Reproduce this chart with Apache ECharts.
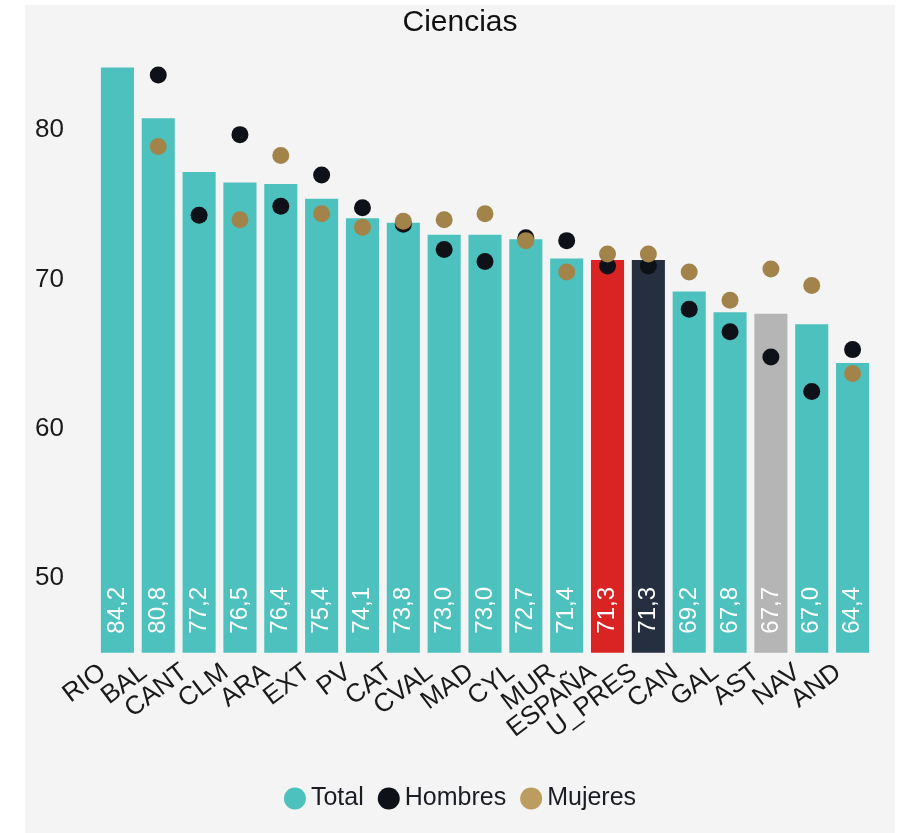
<!DOCTYPE html>
<html>
<head>
<meta charset="utf-8">
<script src="https://cdn.jsdelivr.net/npm/echarts@6/dist/echarts.min.js"></script>
<style>
html,body{margin:0;padding:0;background:#ffffff;}
#chart{position:absolute;left:25px;top:5px;width:870px;height:828px;}
</style>
</head>
<body>
<div id="chart"></div>
<script>
const categories = ['RIO','BAL','CANT','CLM','ARA','EXT','PV','CAT','CVAL','MAD','CYL','MUR','ESPAÑA','U_PRES','CAN','GAL','AST','NAV','AND'];
const total   = [84.2, 80.8, 77.2, 76.5, 76.4, 75.4, 74.1, 73.8, 73.0, 73.0, 72.7, 71.4, 71.3, 71.3, 69.2, 67.8, 67.7, 67.0, 64.4];
const hombres = [null, 83.7, 74.3, 79.7, 74.9, 77.0, 74.8, 73.7, 72.0, 71.2, 72.8, 72.6, 70.9, 70.9, 68.0, 66.5, 64.8, 62.5, 65.3];
const mujeres = [null, 78.9, null, 74.0, 78.3, 74.4, 73.5, 73.9, 74.0, 74.4, 72.6, 70.5, 71.7, 71.7, 70.5, 68.6, 70.7, 69.6, 63.7];
const yTicks = [50, 60, 70, 80];

const FONT = 'Liberation Sans, Arial, sans-serif';
const TEAL = '#4dc1bd';
const specialColors = { 'ESPAÑA': '#da2323', 'U_PRES': '#262f3f', 'AST': '#b5b5b5' };

const chart = echarts.init(document.getElementById('chart'), null, {renderer: 'canvas'});
chart.setOption({
  backgroundColor: '#f4f4f4',
  animation: false,
  textStyle: { fontFamily: FONT },
  title: {
    text: 'Ciencias', left: 'center', top: -2,
    textStyle: { fontFamily: FONT, fontSize: 30, fontWeight: 'normal', color: '#111' }
  },
  legend: {
    top: 776, left: 'center',
    icon: 'circle', itemWidth: 22, itemHeight: 22, itemGap: 14,
    textStyle: { fontFamily: FONT, fontSize: 25, color: '#1a1d24' },
    data: [
      { name: 'Total', itemStyle: { color: TEAL } },
      { name: 'Hombres', itemStyle: { color: '#0e1117' } },
      { name: 'Mujeres', itemStyle: { color: '#bd9c62' } }
    ]
  },
  grid: { left: 72, right: 22, top: 50.5, bottom: 180.3, containLabel: false },
  xAxis: {
    type: 'category', data: categories,
    axisLine: { show: false }, axisTick: { show: false },
    axisLabel: {
      rotate: 37, fontSize: 26, color: '#1a1a1a', fontFamily: FONT, margin: 6, interval: 0,
      padding: [0, 18, 10, 0]
    }
  },
  yAxis: {
    type: 'value', min: 45, max: 85, interval: 5,
    splitLine: { show: false }, axisLine: { show: false }, axisTick: { show: false },
    axisLabel: {
      fontSize: 26, color: '#1a1a1a', fontFamily: FONT, margin: 33,
      formatter: v => yTicks.indexOf(v) >= 0 ? String(v) : ''
    }
  },
  series: [
    {
      name: 'Total', type: 'bar', barWidth: '81%', color: TEAL,
      data: total.map((v, i) => ({
        value: v,
        itemStyle: { color: specialColors[categories[i]] || TEAL }
      })),
      label: {
        show: true, position: 'insideBottom', rotate: 90, align: 'left', verticalAlign: 'middle',
        distance: 19, color: '#ffffff', fontSize: 24, fontFamily: FONT,
        formatter: p => p.value.toFixed(1).replace('.', ',')
      }
    },
    {
      name: 'Hombres', type: 'scatter', symbol: 'circle', symbolSize: 17,
      itemStyle: { color: '#0e1117', opacity: 1 },
      data: hombres
    },
    {
      name: 'Mujeres', type: 'scatter', symbol: 'circle', symbolSize: 17,
      itemStyle: { color: '#a2844a', opacity: 1 },
      data: mujeres
    }
  ]
});
</script>
</body>
</html>
